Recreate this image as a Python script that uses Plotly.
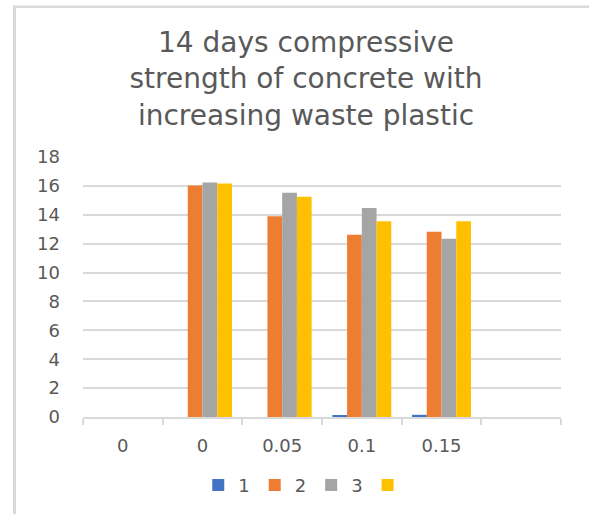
import plotly.graph_objects as go

# Data
categories = ["0", "0", "0.05", "0.1", "0.15", ""]
series_names = ["1", "2", "3", ""]
s1 = [0, 0, 0, 0.1, 0.15, None]
s2 = [0, 16.02, 13.9, 12.62, 12.82, None]
s3 = [0, 16.23, 15.52, 14.47, 12.34, None]
s4 = [0, 16.16, 15.25, 13.55, 13.55, None]
colors = ["#4472C4", "#ED7D31", "#A5A5A5", "#FFC000"]
y_ticks = [0, 2, 4, 6, 8, 10, 12, 14, 16, 18]

FONT = "DejaVu Sans"
TXT = "#595959"
GRID = "#d9d9d9"

xpos = list(range(len(categories)))

fig = go.Figure()
for name, vals, col in zip(series_names, [s1, s2, s3, s4], colors):
    fig.add_trace(go.Bar(x=xpos, y=vals, name=name, marker=dict(color=col, line=dict(width=0))))

W, H = 589, 516
L, R, T, B = 83, 28, 157, 96
pw = W - L - R
ph = H - T - B

def px2paper_x(px):
    return (px - L) / pw

def px2paper_y(py):
    return (H - B - py) / ph

fig.update_layout(
    width=W, height=H,
    margin=dict(l=L, r=R, t=T, b=B, pad=0),
    paper_bgcolor="white", plot_bgcolor="white",
    barmode="group", bargap=0.26, bargroupgap=0,
    title=dict(
        text="14 days compressive<br>strength of concrete with<br>increasing waste plastic",
        x=306 / W, xref="container", xanchor="center",
        y=1 - 52 / H, yanchor="top",
        font=dict(family=FONT, size=28, color=TXT),
    ),
    font=dict(family=FONT, color=TXT),
    showlegend=True,
    legend=dict(
        orientation="h", x=0.466, xanchor="center", y=px2paper_y(489), yanchor="middle",
        font=dict(family=FONT, size=18, color=TXT),
        itemwidth=30, tracegroupgap=0,
    ),
    xaxis=dict(
        range=[-0.5, len(categories) - 0.5],
        tickmode="array", tickvals=xpos, ticktext=categories,
        ticks="", showgrid=False, zeroline=False,
        showline=True, linecolor=GRID, linewidth=2,
        tickfont=dict(family=FONT, size=18, color=TXT),
        ticklabelstandoff=11,
        minor=dict(tickmode="array", tickvals=[i - 0.5 for i in range(len(categories) + 1)],
                   ticks="outside", ticklen=6, tickcolor=GRID, tickwidth=2, showgrid=False),
        fixedrange=True,
    ),
    yaxis=dict(
        range=[0, 18], tickmode="array", tickvals=y_ticks,
        showgrid=True, gridcolor=GRID, gridwidth=2,
        zeroline=False, showline=False, ticks="",
        tickfont=dict(family=FONT, size=18, color=TXT),
        ticklabelstandoff=22,
        fixedrange=True,
    ),
    shapes=[
        dict(type="line", xref="paper", yref="paper",
             x0=px2paper_x(14.5), x1=px2paper_x(14.5), y0=px2paper_y(4), y1=px2paper_y(H + 2),
             line=dict(color=GRID, width=3)),
        dict(type="line", xref="paper", yref="paper",
             x0=px2paper_x(13), x1=px2paper_x(W + 2), y0=px2paper_y(5), y1=px2paper_y(5),
             line=dict(color=GRID, width=2.5)),
    ],
)

fig.write_html("out.html")
